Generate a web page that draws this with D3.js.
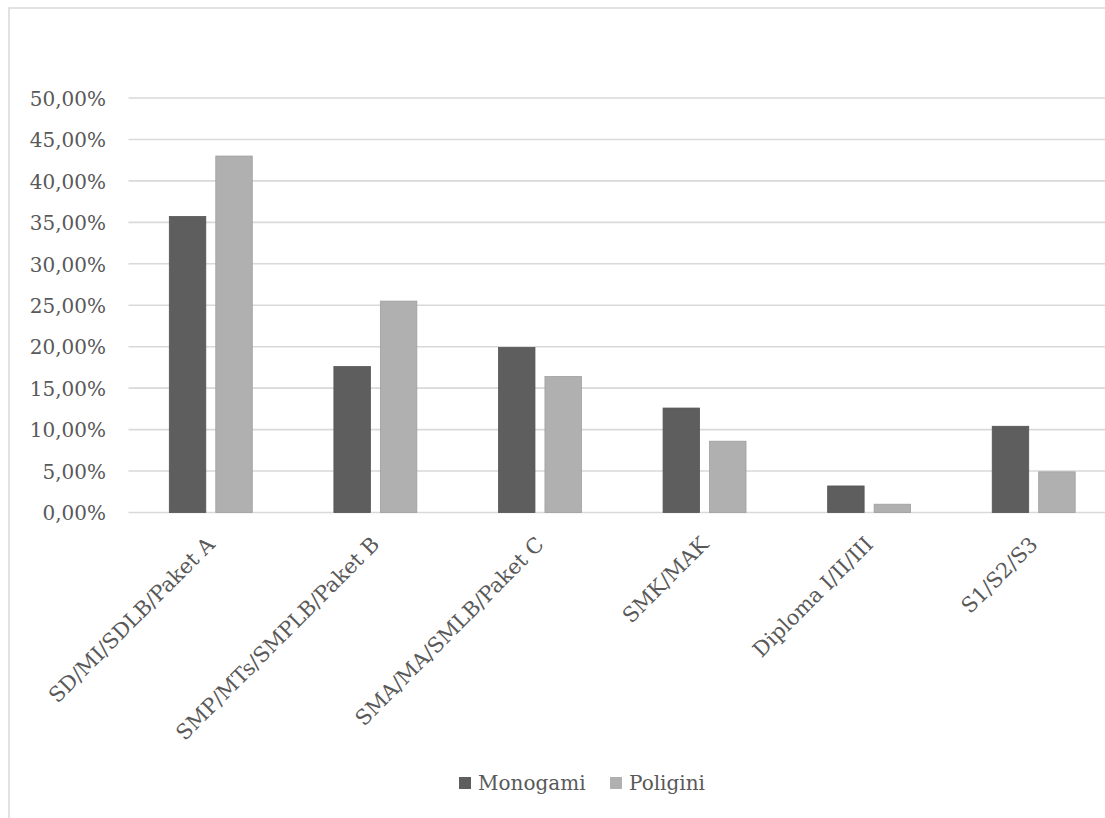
<!DOCTYPE html>
<html>
<head>
<meta charset="utf-8">
<script src="https://cdn.jsdelivr.net/npm/d3@7"></script>
<style>
  html, body { margin: 0; padding: 0; background: #fff; }
  svg { display: block; }
  text { font-family: "DejaVu Serif", serif; fill: #595959; }
</style>
</head>
<body>
<svg id="chart" width="1105" height="818"></svg>
<script>
const categories = ["SD/MI/SDLB/Paket A", "SMP/MTs/SMPLB/Paket B", "SMA/MA/SMLB/Paket C", "SMK/MAK", "Diploma I/II/III", "S1/S2/S3"];
const seriesNames = ["Monogami", "Poligini"];
const monogami = [35.7, 17.6, 19.9, 12.6, 3.2, 10.4];
const poligini = [43.0, 25.5, 16.4, 8.6, 1.0, 4.9];
const yTicks = [0, 5, 10, 15, 20, 25, 30, 35, 40, 45, 50];
const colors = ["#5e5e5e", "#b0b0b0"];

const svg = d3.select("#chart");
const W = 1105, H = 818;
const plotLeft = 128.5, plotRight = 1116, plotTop = 98, plotBottom = 512.5;

// outer frame
svg.append("path")
  .attr("d", `M9,${H} L9,8 L${W},8`)
  .attr("fill", "none").attr("stroke", "#d9d9d9").attr("stroke-width", 1.5);

const y = d3.scaleLinear().domain([0, 50]).range([plotBottom, plotTop]);
const x0 = d3.scaleBand().domain(categories).range([plotLeft, plotRight]).paddingInner(0.496).paddingOuter(0.248);
const x1 = d3.scaleBand().domain(seriesNames).range([0, x0.bandwidth()]).paddingInner(0.215).paddingOuter(0);

const fmt = v => d3.format(".2f")(v).replace(".", ",") + "%";

// gridlines
svg.append("g").selectAll("line").data(yTicks).join("line")
  .attr("x1", plotLeft).attr("x2", plotRight)
  .attr("y1", d => y(d)).attr("y2", d => y(d))
  .attr("stroke", "#d9d9d9").attr("stroke-width", 1.6);

// y axis labels
const yAxis = d3.axisLeft(y).tickValues(yTicks).tickFormat(fmt).tickSize(0).tickPadding(0);
const gy = svg.append("g").attr("transform", `translate(106,0)`).call(yAxis);
gy.select(".domain").remove();
gy.selectAll("text").attr("font-size", 20).attr("font-family", "DejaVu Serif").attr("fill", "#595959").attr("dy", "0.36em");

// bars
const data = categories.map((c, i) => ({ cat: c, vals: [monogami[i], poligini[i]] }));
const groups = svg.append("g").selectAll("g").data(data).join("g")
  .attr("transform", d => `translate(${x0(d.cat)},0)`);
groups.selectAll("rect").data(d => d.vals.map((v, j) => ({ s: seriesNames[j], v, j }))).join("rect")
  .attr("x", d => x1(d.s))
  .attr("width", x1.bandwidth())
  .attr("y", d => y(d.v))
  .attr("height", d => plotBottom - y(d.v))
  .attr("fill", d => colors[d.j])
  .attr("stroke", d => d3.color(colors[d.j]).darker(0.3))
  .attr("stroke-width", 0.8);

// x labels
const xAxis = d3.axisBottom(x0).tickSize(0).tickPadding(0);
const gx = svg.append("g").attr("transform", `translate(0,${plotBottom})`).call(xAxis);
gx.select(".domain").remove();
gx.selectAll(".tick text")
  .attr("font-size", 21).attr("font-family", "DejaVu Serif").attr("fill", "#595959")
  .attr("text-anchor", "end")
  .attr("y", 0).attr("dy", "0.35em")
  .attr("transform", "translate(0,28) rotate(-45)");

// legend
const legend = svg.append("g").attr("transform", "translate(459,777)");
const legendX = [0, 151];
seriesNames.forEach((s, i) => {
  const g = legend.append("g").attr("transform", `translate(${legendX[i]},0)`);
  g.append("rect").attr("width", 12).attr("height", 12).attr("fill", colors[i]);
  g.append("text").attr("x", 19).attr("y", 13).attr("font-size", 20).text(s);
});
</script>
</body>
</html>
